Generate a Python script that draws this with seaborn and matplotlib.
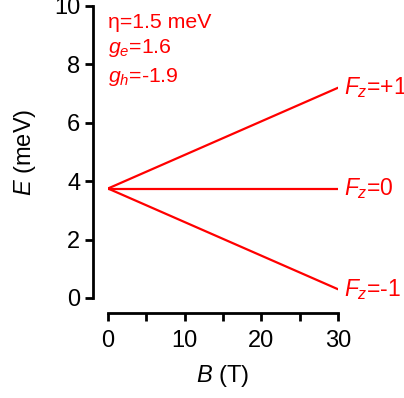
import pandas as pd
import seaborn as sns
import matplotlib.pyplot as plt

# values
B = [0, 10, 20, 30]
E_plus = [3.75, 4.9, 6.05, 7.2]
E_zero = [3.75, 3.75, 3.75, 3.75]
E_minus = [3.75, 2.6, 1.45, 0.3]
state_labels = ['$F_z$=+1', '$F_z$=0', '$F_z$=-1']
params = ['η=1.5 meV', '$g_e$=1.6', '$g_h$=-1.9']
param_y = [9.25, 8.39, 7.4]

df = pd.DataFrame({
    'B': B * 3,
    'E': E_plus + E_zero + E_minus,
    'state': [s for s in state_labels for _ in B],
})

sns.set_style('ticks')
plt.rcParams['font.family'] = ['Liberation Sans', 'DejaVu Sans']
plt.rcParams['mathtext.fontset'] = 'custom'
plt.rcParams['mathtext.rm'] = 'Liberation Sans'
plt.rcParams['mathtext.it'] = 'Liberation Sans:italic'
plt.rcParams['text.color'] = 'black'
plt.rcParams['axes.labelcolor'] = 'black'
plt.rcParams['xtick.color'] = 'black'
plt.rcParams['ytick.color'] = 'black'

red = '#ff0000'
fig = plt.figure(figsize=(4.04, 3.98), dpi=100)
ax = fig.add_axes([108 / 404, 1 - 298 / 398, 230 / 404, 292 / 398])

sns.lineplot(data=df, x='B', y='E', hue='state', palette=[red] * 3,
             linewidth=1.6, legend=False, ax=ax)

ax.set_xlim(0, 30)
ax.set_ylim(0, 10)
ax.set_xticks([0, 10, 20, 30])
ax.set_xticks([5, 15, 25], minor=True)
ax.set_yticks([0, 2, 4, 6, 8, 10])

sns.despine(ax=ax)
for side in ['left', 'bottom']:
    ax.spines[side].set_position(('outward', 10.8))
    ax.spines[side].set_linewidth(2)
    ax.spines[side].set_color('black')
ax.tick_params(which='both', direction='out', length=6, width=2,
               color='black', labelsize=17)
ax.tick_params(axis='y', pad=3)
ax.tick_params(axis='x', pad=6)

ax.set_xlabel('$B$ (T)', fontsize=17, labelpad=8)
ax.set_ylabel('$E$ (meV)', fontsize=17, labelpad=12)

# level labels at the line ends
for lab, ys in zip(state_labels, [E_plus, E_zero, E_minus]):
    ax.annotate(lab, xy=(B[-1], ys[-1]), xytext=(4, 0), textcoords='offset points',
                color=red, fontsize=16.5, va='center', ha='left', annotation_clip=False)

for t, y in zip(params, param_y):
    ax.text(0, y, t, color=red, fontsize=15.3, va='baseline', ha='left')

fig.savefig('out.png', dpi=100)
